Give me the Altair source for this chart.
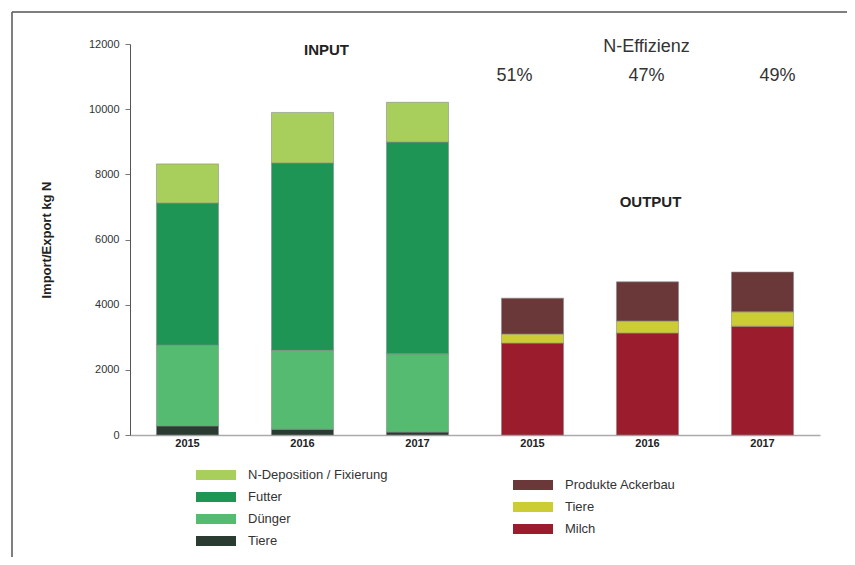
import altair as alt
import pandas as pd

# ---- data ----
in_cats = ["I2015", "I2016", "I2017"]
out_cats = ["O2015", "O2016", "O2017"]
all_cats = in_cats + out_cats

in_series = ["N-Deposition / Fixierung", "Futter", "Dünger", "Tiere"]
in_tiere = [280, 180, 90]
in_duenger = [2480, 2420, 2400]
in_futter = [4360, 5750, 6500]
in_ndep = [1200, 1550, 1220]

out_series = ["Produkte Ackerbau", "Tiere", "Milch"]
out_milch = [2820, 3130, 3340]
out_tiere = [280, 370, 440]
out_acker = [1100, 1200, 1220]

in_colors = ["#a8cf5c", "#1f9555", "#55bb70", "#2a3b32"]
out_colors = ["#6a3838", "#cccc35", "#9b1c2c"]

annotations = [
    # text, category, y value, dx, size, bold
    ("INPUT", "I2016", 11816, 24, 15, True),
    ("N-Effizienz", "O2016", 11908, -1, 18, False),
    ("51%", "O2015", 11018, -18, 18, False),
    ("47%", "O2016", 11018, -1, 18, False),
    ("49%", "O2017", 11018, 15, 18, False),
    ("OUTPUT", "O2016", 7151, 3, 15, True),
]

rows = []
for i, c in enumerate(in_cats):
    for ordv, (s, vals) in enumerate(zip(["Tiere", "Dünger", "Futter", "N-Deposition / Fixierung"],
                                         [in_tiere, in_duenger, in_futter, in_ndep])):
        rows.append({"cat": c, "series": s, "value": vals[i], "ord": ordv})
df_in = pd.DataFrame(rows)

rows = []
for i, c in enumerate(out_cats):
    for ordv, (s, vals) in enumerate(zip(["Milch", "Tiere", "Produkte Ackerbau"],
                                         [out_milch, out_tiere, out_acker])):
        rows.append({"cat": c, "series": s, "value": vals[i], "ord": ordv})
df_out = pd.DataFrame(rows)

FONT = "Liberation Sans"
rect_path = "M-2,-0.5H2V0.5H-2Z"

xenc = alt.X("cat:N", scale=alt.Scale(domain=all_cats, paddingInner=0.46, paddingOuter=0.23),
             axis=alt.Axis(title=None, labelExpr="substring(datum.label, 1)", labelAngle=0,
                           ticks=False, domainColor="#aaaaaa", domainWidth=1.5,
                           labelFontWeight="bold", labelFontSize=11, labelColor="#222",
                           labelPadding=2, labelFont=FONT))
yenc = alt.Y("sum(value):Q", stack="zero",
             scale=alt.Scale(domain=[0, 12000], nice=False),
             axis=alt.Axis(title="Import/Export kg N", values=list(range(0, 12001, 2000)),
                           format="d", grid=False, tickSize=5, tickColor="#777", domainColor="#555",
                           labelFontSize=11, labelColor="#333", labelPadding=6, labelFont=FONT,
                           titleFontSize=13, titleFontWeight="bold", titleColor="#222",
                           titleFont=FONT, titlePadding=35))

legend_common = dict(title=None, symbolType=rect_path, symbolSize=400, symbolStrokeWidth=0,
                     labelFontSize=13, labelColor="#333", labelFont=FONT, orient="none",
                     labelOffset=22, rowPadding=5, padding=0)

bars_in = alt.Chart(df_in).mark_bar(stroke="#8a8a8a", strokeWidth=0.6).encode(
    x=xenc, y=yenc,
    color=alt.Color("series:N", scale=alt.Scale(domain=in_series, range=in_colors),
                    legend=alt.Legend(legendX=76, legendY=421, **legend_common)),
    order=alt.Order("ord:Q"),
)
bars_out = alt.Chart(df_out).mark_bar(stroke="#8a8a8a", strokeWidth=0.6).encode(
    x=alt.X("cat:N"), y=alt.Y("sum(value):Q", stack="zero"),
    color=alt.Color("series:N", scale=alt.Scale(domain=out_series, range=out_colors),
                    legend=alt.Legend(legendX=393, legendY=431, **legend_common)),
    order=alt.Order("ord:Q"),
)

layers = [bars_in, bars_out]
for text, cat, yv, dx, size, bold in annotations:
    d = pd.DataFrame({"cat": [cat], "y": [yv], "t": [text]})
    layers.append(alt.Chart(d).mark_text(
        dx=dx, fontSize=size, fontWeight="bold" if bold else "normal",
        color="#333" if not bold else "#222", font=FONT, baseline="middle", align="center"
    ).encode(x=alt.X("cat:N"), y=alt.Y("y:Q"), text="t:N"))

frame_df = pd.DataFrame({"k": [0]})
top_line = alt.Chart(frame_df).mark_rule(color="#555", strokeWidth=1.5).encode(
    x=alt.value(-118), x2=alt.value(730), y=alt.value(-32))
left_line = alt.Chart(frame_df).mark_rule(color="#555", strokeWidth=1.5).encode(
    x=alt.value(-118), y=alt.value(-32), y2=alt.value(530))
layers += [top_line, left_line]

chart = alt.layer(*layers).resolve_scale(color="independent").properties(
    width=690, height=391,
    autosize=alt.AutoSizeParams(type="none"),
    padding={"left": 122, "top": 36, "right": 27, "bottom": 122},
).configure(font=FONT).configure_view(stroke="white")

chart.save("out.html", embed_options={"renderer": "svg", "actions": False})
